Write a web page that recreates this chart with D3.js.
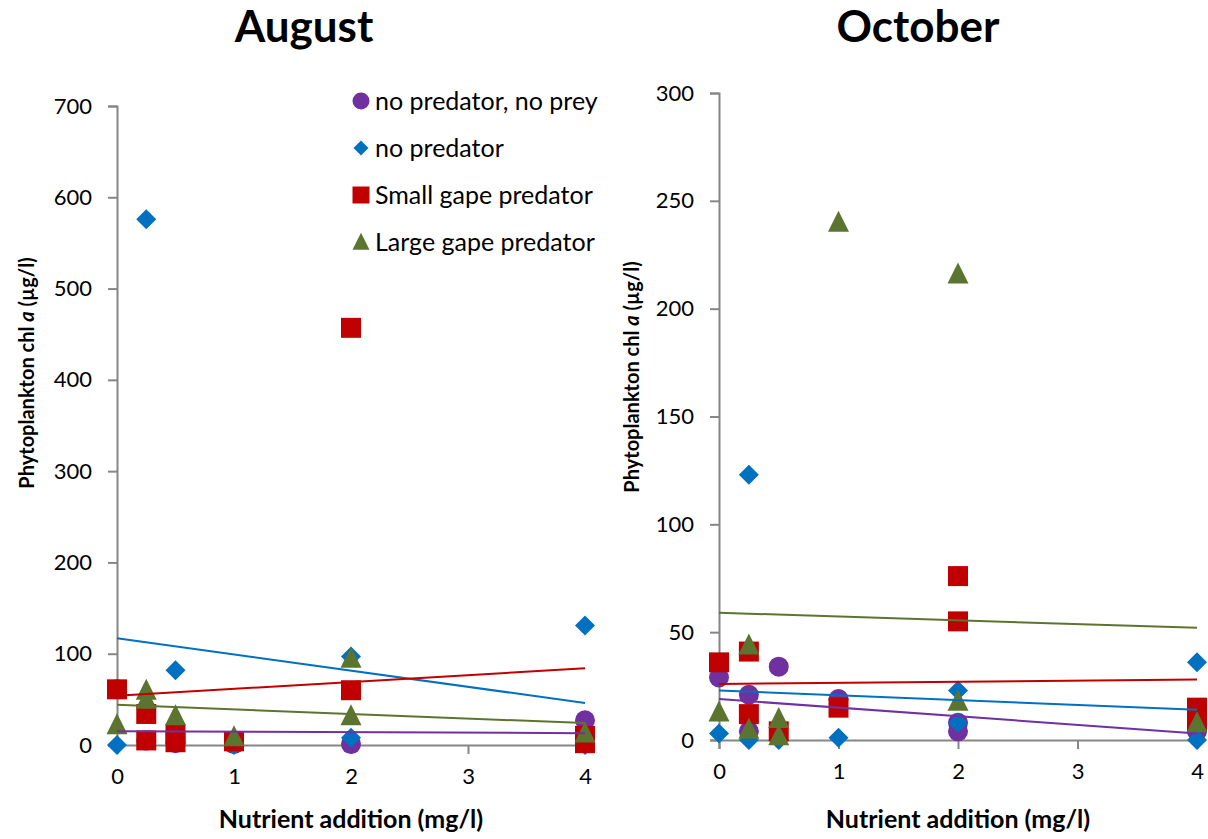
<!DOCTYPE html>
<html><head><meta charset="utf-8">
<script src="https://cdn.jsdelivr.net/npm/d3@7/dist/d3.min.js"></script>
<style>
body{margin:0;background:#fff;}
svg{font-family:Lato,"Liberation Sans",sans-serif;}
</style></head>
<body>
<svg id="chart" width="1208" height="839"></svg>
<script>
// ---------- DATA ----------
const seriesNames = ["no predator, no prey", "no predator", "Small gape predator", "Large gape predator"];
const xTicks = [0, 1, 2, 3, 4];
const augYTicks = [0, 100, 200, 300, 400, 500, 600, 700];
const octYTicks = [0, 50, 100, 150, 200, 250, 300];

// August points [nutrient, chl a]
const augNoPredNoPrey = [[0, 61], [0.25, 5], [0.5, 2], [1, 1], [2, 1], [4, 27]];
const augNoPred = [[0, 0], [0.25, 576], [0.5, 82], [1, 0], [2, 97], [2, 8], [4, 131], [4, 0]];
const augSmallGape = [[0, 61], [0.25, 34], [0.25, 5], [0.5, 12], [0.5, 3], [1, 4], [2, 457], [2, 60], [4, 10], [4, 2]];
const augLargeGape = [[0, 22], [0.25, 60], [0.25, 50], [0.5, 32], [1, 9], [2, 95], [2, 32], [4, 13]];
// August trend lines: value at x=0 and x=4
const augTrendNoPredNoPrey = [15, 13];
const augTrendNoPred = [117, 46];
const augTrendSmallGape = [54, 84];
const augTrendLargeGape = [44, 24];

// October points
const octNoPredNoPrey = [[0, 29], [0.25, 21], [0.25, 4], [0.5, 34], [1, 19], [2, 8], [2, 4], [4, 4]];
const octNoPred = [[0, 3], [0.25, 123], [0.25, 0], [0.5, 0], [1, 1], [2, 23], [2, 8], [4, 36], [4, 0]];
const octSmallGape = [[0, 36], [0.25, 41], [0.25, 12], [0.5, 4], [1, 15], [2, 76], [2, 55], [4, 15], [4, 9]];
const octLargeGape = [[0, 13], [0.25, 44], [0.25, 5], [0.5, 10], [0.5, 2], [1, 240], [2, 216], [2, 18], [4, 8]];
const octTrendNoPredNoPrey = [19, 3];
const octTrendNoPred = [23, 14];
const octTrendSmallGape = [26, 28];
const octTrendLargeGape = [59, 52];

// ---------- STYLE ----------
const colors = ["#7030A0", "#0070C0", "#C00000", "#5B7530"];
const shapes = ["circle", "diamond", "square", "triangle"];
const axisColor = "#868686";

const svg = d3.select("#chart");

function symbolPath(shape, size) {
  const s = size;
  if (shape === "circle") return d3.symbol(d3.symbolCircle, Math.PI * (s / 2) * (s / 2))();
  if (shape === "diamond") { const h = s / 2; return `M0,${-h}L${h},0L0,${h}L${-h},0Z`; }
  if (shape === "square") { const h = s / 2; return `M${-h},${-h}H${h}V${h}H${-h}Z`; }
  if (shape === "triangle") { const h = s / 2; return `M0,${-h * 1.1}L${h},${h * 0.9}L${-h},${h * 0.9}Z`; }
}

function drawPanel(cfg) {
  const x = d3.scaleLinear().domain([0, 4]).range([cfg.x0, cfg.x1]);
  const y = d3.scaleLinear().domain([0, cfg.yMax]).range([cfg.y0, cfg.y1]);
  const g = svg.append("g");

  // y axis
  const ya = g.append("g").attr("transform", `translate(${cfg.x0},0)`)
    .call(d3.axisLeft(y).tickValues(cfg.yTicks).tickSize(9).tickPadding(16).tickFormat(d3.format("d")));
  // x axis
  const xa = g.append("g").attr("transform", `translate(0,${cfg.y0})`)
    .call(d3.axisBottom(x).tickValues(xTicks).tickSize(9).tickPadding(14).tickFormat(d3.format("d")));
  [ya, xa].forEach(a => {
    a.select(".domain").attr("stroke", axisColor).attr("stroke-width", 2);
    a.selectAll(".tick line").attr("stroke", axisColor).attr("stroke-width", 2);
    a.selectAll(".tick text").attr("fill", "#000").style("font-size", "22px").style("font-family", "Lato");
  });

  // points
  cfg.series.forEach((pts, i) => {
    g.append("g").selectAll("path").data(pts).join("path")
      .attr("d", symbolPath(shapes[i], i === 3 ? 21 : 20))
      .attr("transform", d => `translate(${x(d[0])},${y(d[1])})`)
      .attr("fill", colors[i]);
  });
  // trend lines
  cfg.trends.forEach((t, i) => {
    g.append("line")
      .attr("x1", x(0)).attr("y1", y(t[0]))
      .attr("x2", x(4)).attr("y2", y(t[1]))
      .attr("stroke", colors[i]).attr("stroke-width", 2);
  });

  // title
  svg.append("text").attr("x", cfg.titleX).attr("y", 42).attr("text-anchor", "middle")
    .style("font-size", "44px").style("font-weight", "bold").text(cfg.title);
  // x label
  svg.append("text").attr("x", (cfg.x0 + cfg.x1) / 2).attr("y", 828).attr("text-anchor", "middle")
    .style("font-size", "25px").style("font-weight", "bold").text("Nutrient addition (mg/l)");
  // y label
  const yl = svg.append("text")
    .attr("transform", `translate(${cfg.yLabelX},${cfg.yLabelY}) rotate(-90)`)
    .attr("text-anchor", "middle").style("font-size", "20px").style("font-weight", "bold");
  yl.append("tspan").text("Phytoplankton chl ");
  yl.append("tspan").style("font-style", "italic").text("a");
  yl.append("tspan").text(" (µg/l)");
}

drawPanel({
  title: "August", titleX: 304,
  x0: 117, x1: 585, y0: 745, y1: 106, yMax: 700, yTicks: augYTicks, yLabelX: 34, yLabelY: 373,
  series: [augNoPredNoPrey, augNoPred, augSmallGape, augLargeGape],
  trends: [augTrendNoPredNoPrey, augTrendNoPred, augTrendSmallGape, augTrendLargeGape]
});
drawPanel({
  title: "October", titleX: 918,
  x0: 719, x1: 1197, y0: 740, y1: 93, yMax: 300, yTicks: octYTicks, yLabelX: 639, yLabelY: 377,
  series: [octNoPredNoPrey, octNoPred, octSmallGape, octLargeGape],
  trends: [octTrendNoPredNoPrey, octTrendNoPred, octTrendSmallGape, octTrendLargeGape]
});

// legend
const leg = svg.append("g");
seriesNames.forEach((name, i) => {
  const yy = 101 + i * 47;
  leg.append("path").attr("d", symbolPath(shapes[i], i === 1 ? 15 : 17))
    .attr("transform", `translate(361,${yy})`).attr("fill", colors[i]);
  leg.append("text").attr("x", 375).attr("y", yy).attr("dy", "0.35em")
    .style("font-size", "25px").text(name);
});
</script>
</body></html>
